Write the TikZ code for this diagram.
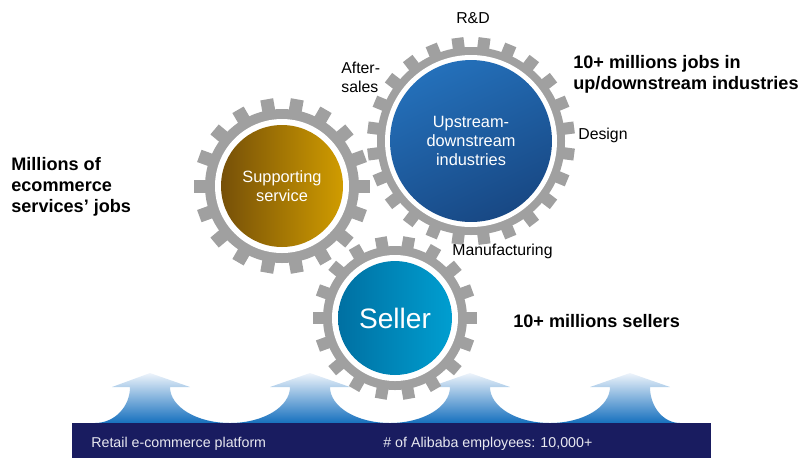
\documentclass[tikz,border=0pt]{standalone}
\usepackage{fontspec}
\setmainfont{Liberation Sans}
\definecolor{cogGray}{RGB}{160,160,160}
\definecolor{barNavy}{RGB}{25,28,96}
\definecolor{barText}{RGB}{232,232,240}
\definecolor{arrowTop}{RGB}{238,244,251}
\definecolor{arrowBot}{RGB}{22,112,190}
\definecolor{goldDark}{RGB}{118,80,8}
\definecolor{goldLight}{RGB}{208,156,0}
\definecolor{chainTop}{RGB}{36,112,186}
\definecolor{chainBot}{RGB}{24,72,132}
\definecolor{sellerDark}{RGB}{0,112,162}
\definecolor{sellerLight}{RGB}{0,158,208}
\tikzset{
	cog/.style={fill=cogGray},
	hub/.style={circle,inner sep=0pt,text=white,align=center},
	tag/.style={font=\fontsize{9}{10.8}\selectfont,align=left,inner sep=0pt},
	claim/.style={font=\bfseries\fontsize{10.3}{12}\selectfont,align=left,inner sep=0pt},
	barlabel/.style={anchor=base west,inner sep=0pt,text=barText,font=\fontsize{8.1}{10}\selectfont}
}
% #1 centre, #2 tooth angles, #3 gap radius, #4 ring radius, #5 tip radius, #6 half tooth
\newcommand{\drawcog}[6]{%
	\begin{scope}[shift={#1}]
		\fill[cog] (0,0) circle[radius=#4];
		\foreach \a in {#2}
			\fill[cog,rotate=\a] (-#6,#3) rectangle (#6,#5);
		\fill[white] (0,0) circle[radius=#3];
	\end{scope}}
\begin{document}
\begin{tikzpicture}[x=0.02cm,y=-0.02cm]
	\useasboundingbox (0,0) rectangle (801,458);
	% arrows rising from the platform
	\shade[top color=arrowTop,bottom color=arrowBot] (95,423)
		arc[start angle=90,end angle=0,x radius=35,y radius=36]
		-- (112,387) -- (150,373) -- (190,387) -- (170,387)
		arc[start angle=180,end angle=0,x radius=60,y radius=36]
		-- (270,387) -- (310,373) -- (350,387) -- (330,387)
		arc[start angle=180,end angle=0,x radius=60,y radius=36]
		-- (430,387) -- (470,373) -- (510,387) -- (490,387)
		arc[start angle=180,end angle=0,x radius=60,y radius=36]
		-- (590,387) -- (630,373) -- (670,387) -- (650,387)
		arc[start angle=180,end angle=90,x radius=30,y radius=36]
		-- cycle;
	\fill[barNavy] (72,423) rectangle (711,458);
	\node[barlabel] (platform) at (91,447) {Retail e-commerce platform};
	\node[barlabel] (staff) at (383,447) {\# of Alibaba employees: 10,000+};
	% gears
	\drawcog{(282,186)}{10,30,...,350}{67}{77}{88}{6.5}
	\drawcog{(471,141)}{7.5,22.5,...,352.5}{86}{94}{104}{6}
	\drawcog{(395,318)}{10,30,...,350}{63}{72}{82}{6}
	\node[hub,minimum size=2.44cm,left color=goldDark,right color=goldLight,
		font=\fontsize{9.3}{10.8}\selectfont] (support) at (282,186) {Supporting\\service};
	\node[hub,minimum size=3.24cm,top color=chainTop,bottom color=chainBot,shading angle=25,
		font=\fontsize{9.3}{10.8}\selectfont] (chain) at (471,141) {Upstream-\\downstream\\industries};
	\node[hub,minimum size=2.28cm,left color=sellerDark,right color=sellerLight,
		font=\fontsize{16}{18}\selectfont] (seller) at (395,318) {Seller};
	% labels round the gears
	\node[tag,anchor=base] (rnd) at (473,23) {R\&D};
	\node[tag,anchor=north west] (after) at (341,62) {After-\\sales};
	\node[tag,anchor=base west] (design) at (578,139) {Design};
	\node[tag,anchor=base west] (make) at (452,255) {Manufacturing};
	% figures
	\node[claim,anchor=north west] (services) at (11,157) {Millions of\\ecommerce\\services’ jobs};
	\node[claim,anchor=north west] (jobs) at (573,55) {10+ millions jobs in\\up/downstream industries};
	\node[claim,anchor=base west] (sellers) at (513,327) {10+ millions sellers};
\end{tikzpicture}
\end{document}
